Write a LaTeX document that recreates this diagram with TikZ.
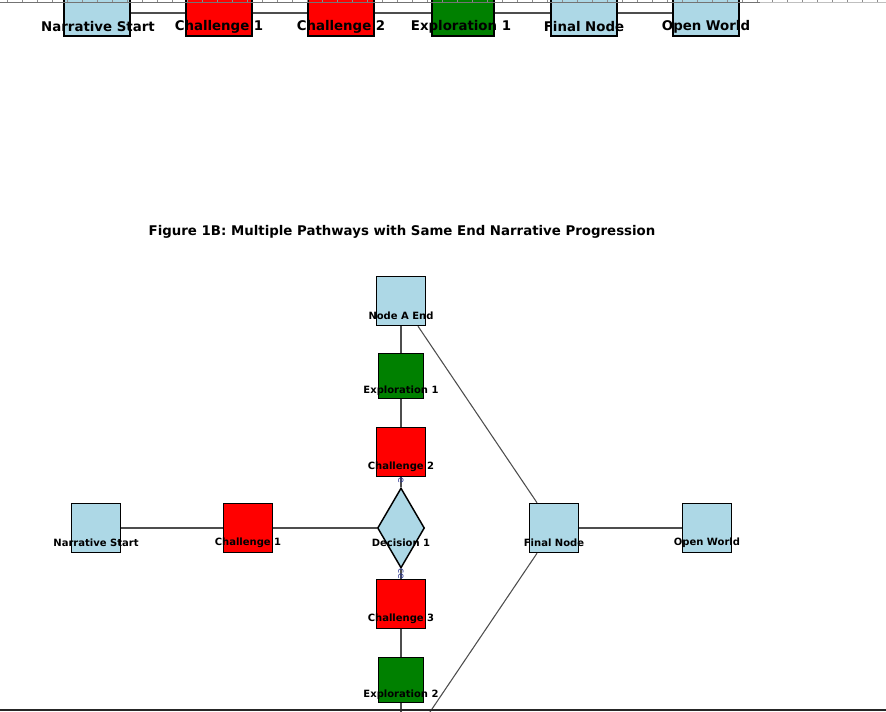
\documentclass[tikz,border=0pt]{standalone}
\usepackage{fontspec}
\setmainfont{DejaVu Sans}
\usepackage{tikz}
\usetikzlibrary{shapes.geometric}
\definecolor{skyfill}{HTML}{ADD8E6}
\definecolor{hotred}{HTML}{FF0000}
\definecolor{leafgreen}{HTML}{008000}
\definecolor{edgegrey}{HTML}{4D4D4D}
\definecolor{tipblue}{HTML}{2A3590}
\tikzstyle{plain} = [rectangle, draw=black, line width=1.1pt, fill=skyfill, minimum width=36.75pt, minimum height=36.75pt, inner sep=0pt]
\tikzstyle{challenge} = [plain, fill=hotred]
\tikzstyle{explore} = [plain, fill=leafgreen, minimum width=33.75pt, minimum height=33.75pt]
\tikzstyle{decision} = [diamond, draw=black, line width=1.1pt, fill=skyfill, minimum width=35.25pt, minimum height=60pt, inner sep=0pt]
\tikzstyle{tag} = [font=\bfseries\fontsize{7.5}{9}\selectfont, yshift=-11pt, inner sep=0pt]
\tikzstyle{bigtag} = [font=\bfseries\fontsize{10}{12}\selectfont, inner sep=0pt]
\tikzstyle{big} = [minimum width=49.5pt, minimum height=34.5pt]
\tikzstyle{link} = [draw=edgegrey, line width=0.8pt]
\tikzstyle{flag} = [font=\fontsize{7}{8}\selectfont, text=tipblue, inner sep=0pt, rotate=-90]

\begin{document}
\begin{tikzpicture}[x=0.75pt, y=-0.75pt]
	\useasboundingbox (0,0) rectangle (886,712);
	\clip (0,0) rectangle (886,712);

	% top strip, figure 1A (cut off)
	\node (a1) [plain, big] at (97,13) {};
	\node (a2) [challenge, big] at (219,13) {};
	\node (a3) [challenge, big] at (341,13) {};
	\node (a4) [explore, big, minimum width=46.5pt] at (463,13) {};
	\node (a5) [plain, big] at (584,13) {};
	\node (a6) [plain, big] at (706,13) {};
	\draw [link](a1) -- (a2);
	\draw [link](a2) -- (a3);
	\draw [link](a3) -- (a4);
	\draw [link](a4) -- (a5);
	\draw [link](a5) -- (a6);
	\node (a1t) [bigtag] at (98,27) {Narrative Start};
	\node (a2t) [bigtag] at (219,27) {Challenge 1};
	\node (a3t) [bigtag] at (341,27) {Challenge 2};
	\node (a4t) [bigtag] at (461,27) {Exploration 1};
	\node (a5t) [bigtag] at (584,27) {Final Node};
	\node (a6t) [bigtag] at (706,27) {Open World};
	\draw [black!55, line width=0.6pt] (0,2.5) -- (760,2.5);
	\draw [black!25, line width=0.6pt] (760,2.5) -- (886,2.5);
	\foreach \k in {0,...,58}
		\draw [black!45, line width=0.5pt] (7+15*\k,0) -- (7+15*\k,2.5);

	% figure 1B
	\node (title) [font=\bfseries\fontsize{10}{12}\selectfont] at (402,232) {Figure 1B: Multiple Pathways with Same End Narrative Progression};

	\node (aend) [plain, label={[tag]center:Node A End}] at (401,301) {};
	\node (ex1) [explore, label={[tag]center:Exploration 1}] at (401,376) {};
	\node (ch2) [challenge, label={[tag]center:Challenge 2}] at (401,452) {};
	\node (dec) [decision, label={[tag]center:Decision 1}] at (401,528) {};
	\node (start) [plain, label={[tag]center:Narrative Start}] at (96,528) {};
	\node (ch1) [challenge, label={[tag]center:Challenge 1}] at (248,528) {};
	\node (final) [plain, label={[tag]center:Final Node}] at (554,528) {};
	\node (open) [plain, label={[tag]center:Open World}] at (707,528) {};
	\node (ch3) [challenge, label={[tag]center:Challenge 3}] at (401,604) {};
	\node (ex2) [explore, label={[tag]center:Exploration 2}] at (401,680) {};
	\coordinate (bend) at (401,755);

	\draw [link](start) -- (ch1);
	\draw [link](ch1) -- (dec);
	\draw [link](dec) -- (ch2);
	\draw [link](ch2) -- (ex1);
	\draw [link](ex1) -- (aend);
	\draw [link](dec) -- (ch3);
	\draw [link](ch3) -- (ex2);
	\draw [link](ex2) -- (bend);
	\draw [link](aend) -- (final);
	\draw [link](bend) -- (final);
	\draw [link](final) -- (open);

	\node (tipa) [flag] at (401,480) {e};
	\node (tipb) [flag] at (401,574) {ce};

	\draw [black!85, line width=1.5pt] (0,710.5) -- (886,710.5);
\end{tikzpicture}
\end{document}
